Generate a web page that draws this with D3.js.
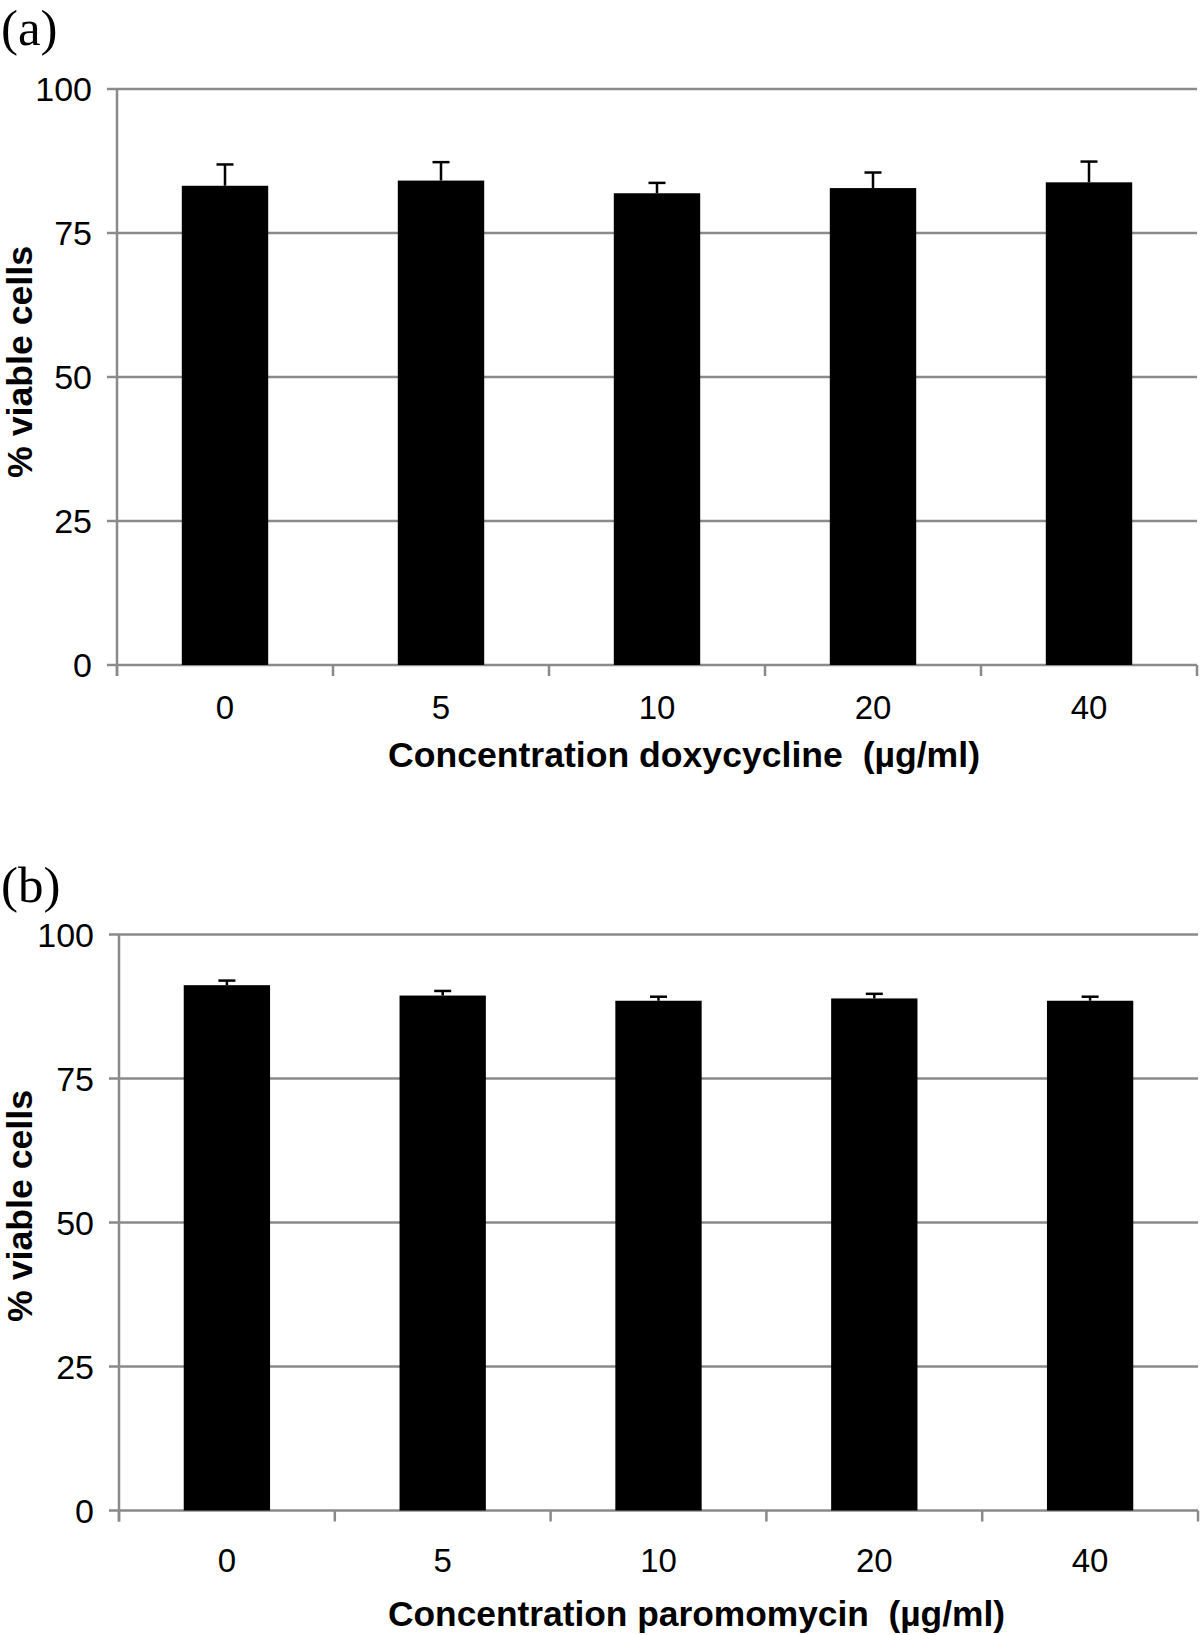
<!DOCTYPE html>
<html>
<head>
<meta charset="utf-8">
<script src="https://cdn.jsdelivr.net/npm/d3@7"></script>
<style>
  html, body { margin: 0; padding: 0; background: #fff; }
  svg { display: block; }
</style>
</head>
<body>
<svg id="chart" width="1200" height="1635"></svg>
<script>
// ---- data ----
const categories = ["0", "5", "10", "20", "40"];
const doxyMeans = [83.2, 84.1, 81.9, 82.8, 83.8];
const doxyErrors = [3.7, 3.2, 1.8, 2.7, 3.6];
const paroMeans = [91.2, 89.4, 88.5, 88.9, 88.5];
const paroErrors = [0.8, 0.8, 0.7, 0.8, 0.7];
const yTicks = [0, 25, 50, 75, 100];
const yDomain = [0, 100];
const panelLabels = ["(a)", "(b)"];
const xTitles = ["Concentration doxycycline  (µg/ml)", "Concentration paromomycin  (µg/ml)"];
const yTitle = "% viable cells";

// ---- layout ----
const panels = [
  { label: panelLabels[0], labelY: 45, means: doxyMeans, errors: doxyErrors,
    x0: 117, x1: 1197, yTop: 89, yBot: 665, xTitle: xTitles[0], xTitleY: 767,
    xTitleLen: 592, tickLabelDy: 54, yLabelRight: 92, yTitleCenter: 362 },
  { label: panelLabels[1], labelY: 902, means: paroMeans, errors: paroErrors,
    x0: 119, x1: 1198, yTop: 934.5, yBot: 1510.5, xTitle: xTitles[1], xTitleY: 1626,
    xTitleLen: 617, tickLabelDy: 61, yLabelRight: 94, yTitleCenter: 1206 }
];

const gridColor = "#8a8a8a";
const svg = d3.select("#chart");
svg.append("rect").attr("width", 1200).attr("height", 1635).attr("fill", "#fff");

panels.forEach(p => {
  const g = svg.append("g");
  const x = d3.scaleBand().domain(categories).range([p.x0, p.x1])
    .paddingInner(0.6).paddingOuter(0.3);
  const xb = d3.scaleBand().domain(categories).range([p.x0, p.x1]).padding(0);
  const y = d3.scaleLinear().domain(yDomain).range([p.yBot, p.yTop]);

  // panel label
  g.append("text").attr("x", 1).attr("y", p.labelY)
    .attr("font-family", "'Liberation Serif', 'Times New Roman', serif")
    .attr("font-size", 51).attr("fill", "#000").text(p.label);

  // gridlines (incl. baseline), extending left as ticks
  g.selectAll("line.grid").data(yTicks).join("line")
    .attr("class", "grid")
    .attr("x1", p.x0 - 10).attr("x2", p.x1)
    .attr("y1", d => y(d)).attr("y2", d => y(d))
    .attr("stroke", gridColor).attr("stroke-width", 2.5);

  // y axis labels via d3 axis
  const yAxis = d3.axisLeft(y).tickValues(yTicks).tickSize(0).tickPadding(0);
  const ya = g.append("g").attr("transform", `translate(${p.yLabelRight},0)`).call(yAxis);
  ya.select(".domain").remove();
  ya.selectAll("text").attr("font-family", "'Liberation Sans', Arial, Helvetica, sans-serif")
    .attr("font-size", 34).attr("fill", "#000").attr("dy", "0.35em");

  // y axis vertical line
  g.append("line").attr("x1", p.x0).attr("x2", p.x0)
    .attr("y1", y(100)).attr("y2", y(0) + 11)
    .attr("stroke", gridColor).attr("stroke-width", 2.5);

  // x boundary ticks
  const bounds = categories.map(c => xb(c)).concat([xb(categories[categories.length - 1]) + xb.bandwidth()]);
  g.selectAll("line.xtick").data(bounds).join("line")
    .attr("class", "xtick")
    .attr("x1", d => d).attr("x2", d => d)
    .attr("y1", y(0)).attr("y2", y(0) + 11)
    .attr("stroke", gridColor).attr("stroke-width", 2.5);

  // x axis labels via d3 axis
  const xAxis = d3.axisBottom(xb).tickSize(0).tickPadding(0);
  const xa = g.append("g").attr("transform", `translate(0,${y(0) + p.tickLabelDy})`).call(xAxis);
  xa.select(".domain").remove();
  xa.selectAll("text").attr("font-family", "'Liberation Sans', Arial, Helvetica, sans-serif")
    .attr("font-size", 33).attr("fill", "#000").attr("dy", "0");

  // bars
  const data = categories.map((c, i) => ({ c, v: p.means[i], e: p.errors[i] }));
  g.selectAll("rect.bar").data(data).join("rect")
    .attr("class", "bar")
    .attr("x", d => x(d.c)).attr("width", x.bandwidth())
    .attr("y", d => y(d.v)).attr("height", d => y(0) - y(d.v))
    .attr("fill", "#000");

  // error bars (positive only)
  g.selectAll("line.err").data(data).join("line")
    .attr("class", "err")
    .attr("x1", d => x(d.c) + x.bandwidth() / 2).attr("x2", d => x(d.c) + x.bandwidth() / 2)
    .attr("y1", d => y(d.v)).attr("y2", d => y(d.v + d.e))
    .attr("stroke", "#000").attr("stroke-width", 2.5);
  g.selectAll("line.cap").data(data).join("line")
    .attr("class", "cap")
    .attr("x1", d => x(d.c) + x.bandwidth() / 2 - 8.5).attr("x2", d => x(d.c) + x.bandwidth() / 2 + 8.5)
    .attr("y1", d => y(d.v + d.e)).attr("y2", d => y(d.v + d.e))
    .attr("stroke", "#000").attr("stroke-width", 2.5);

  // x title
  g.append("text").attr("x", 388).attr("y", p.xTitleY)
    .style("white-space", "pre")
    .attr("font-family", "'Liberation Sans', Arial, Helvetica, sans-serif")
    .attr("font-weight", "bold").attr("font-size", 35)
    .attr("textLength", p.xTitleLen).attr("lengthAdjust", "spacingAndGlyphs")
    .attr("fill", "#000").text(p.xTitle);

  // y title
  g.append("text")
    .attr("transform", `translate(32,${p.yTitleCenter}) rotate(-90)`)
    .attr("text-anchor", "middle")
    .attr("font-family", "'Liberation Sans', Arial, Helvetica, sans-serif")
    .attr("font-weight", "bold").attr("font-size", 35)
    .attr("textLength", 232).attr("lengthAdjust", "spacingAndGlyphs")
    .attr("fill", "#000").text(yTitle);
});
</script>
</body>
</html>
